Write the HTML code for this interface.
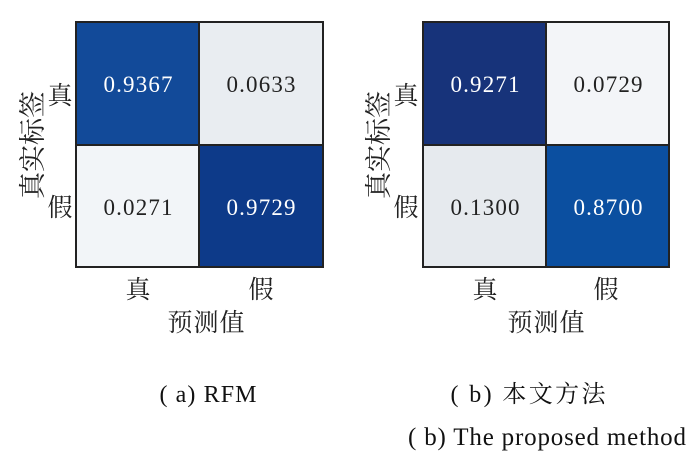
<!DOCTYPE html>
<html><head><meta charset="utf-8"><style>
html,body{margin:0;padding:0;background:#fff;width:700px;height:472px;overflow:hidden}
svg text{font-family:"Liberation Serif","Noto Serif CJK SC",serif}
</style></head><body>
<svg width="700" height="472" viewBox="0 0 700 472" xmlns="http://www.w3.org/2000/svg">
<g font-size="23" text-anchor="middle">
<!-- left matrix -->
<rect x="76" y="22" width="123" height="123" fill="#124a99"/>
<rect x="199" y="22" width="124" height="123" fill="#e9edf1"/>
<rect x="76" y="145" width="123" height="122" fill="#f2f5f8"/>
<rect x="199" y="145" width="124" height="122" fill="#0d3a89"/>
<rect x="76" y="22" width="247" height="245" fill="none" stroke="#222" stroke-width="2"/>
<line x1="199" y1="22" x2="199" y2="267" stroke="#222" stroke-width="2"/>
<line x1="76" y1="145" x2="323" y2="145" stroke="#222" stroke-width="2"/>
<text x="138" y="92" fill="#fff" textLength="69" lengthAdjust="spacing">0.9367</text>
<text x="261" y="92" fill="#222" textLength="69" lengthAdjust="spacing">0.0633</text>
<text x="138" y="215" fill="#222" textLength="69" lengthAdjust="spacing">0.0271</text>
<text x="261" y="215" fill="#fff" textLength="69" lengthAdjust="spacing">0.9729</text>
<text x="60" y="104" font-size="25" fill="#222">真</text>
<text x="60" y="216" font-size="25" fill="#222">假</text>
<text transform="translate(42,145) rotate(-90)" font-size="27" fill="#222">真实标签</text>
<text x="138" y="298" font-size="25" fill="#222">真</text>
<text x="261" y="298" font-size="25" fill="#222">假</text>
<text x="206" y="331" font-size="25" fill="#222" textLength="77" lengthAdjust="spacing">预测值</text>
<!-- right matrix -->
<rect x="423" y="22" width="123" height="123" fill="#17337a"/>
<rect x="546" y="22" width="123" height="123" fill="#f3f5f8"/>
<rect x="423" y="145" width="123" height="122" fill="#e6eaee"/>
<rect x="546" y="145" width="123" height="122" fill="#0b4fa0"/>
<rect x="423" y="22" width="246" height="245" fill="none" stroke="#222" stroke-width="2"/>
<line x1="546" y1="22" x2="546" y2="267" stroke="#222" stroke-width="2"/>
<line x1="423" y1="145" x2="669" y2="145" stroke="#222" stroke-width="2"/>
<text x="485" y="92" fill="#fff" textLength="69" lengthAdjust="spacing">0.9271</text>
<text x="608" y="92" fill="#222" textLength="69" lengthAdjust="spacing">0.0729</text>
<text x="485" y="215" fill="#222" textLength="69" lengthAdjust="spacing">0.1300</text>
<text x="608" y="215" fill="#fff" textLength="69" lengthAdjust="spacing">0.8700</text>
<text x="406" y="104" font-size="25" fill="#222">真</text>
<text x="406" y="216" font-size="25" fill="#222">假</text>
<text transform="translate(388,145) rotate(-90)" font-size="27" fill="#222">真实标签</text>
<text x="485" y="298" font-size="25" fill="#222">真</text>
<text x="606" y="298" font-size="25" fill="#222">假</text>
<text x="546" y="331" font-size="25" fill="#222" textLength="77" lengthAdjust="spacing">预测值</text>
<!-- captions -->
<text x="208" y="402" font-size="24" fill="#111" textLength="97" lengthAdjust="spacing">( a) RFM</text>
<text x="528" y="402" font-size="24" fill="#111" textLength="155" lengthAdjust="spacing">( b) 本文方法</text>
<text x="547" y="445" font-size="25" fill="#111" textLength="278" lengthAdjust="spacing">( b) The proposed method</text>
</g>
</svg>
</body></html>
